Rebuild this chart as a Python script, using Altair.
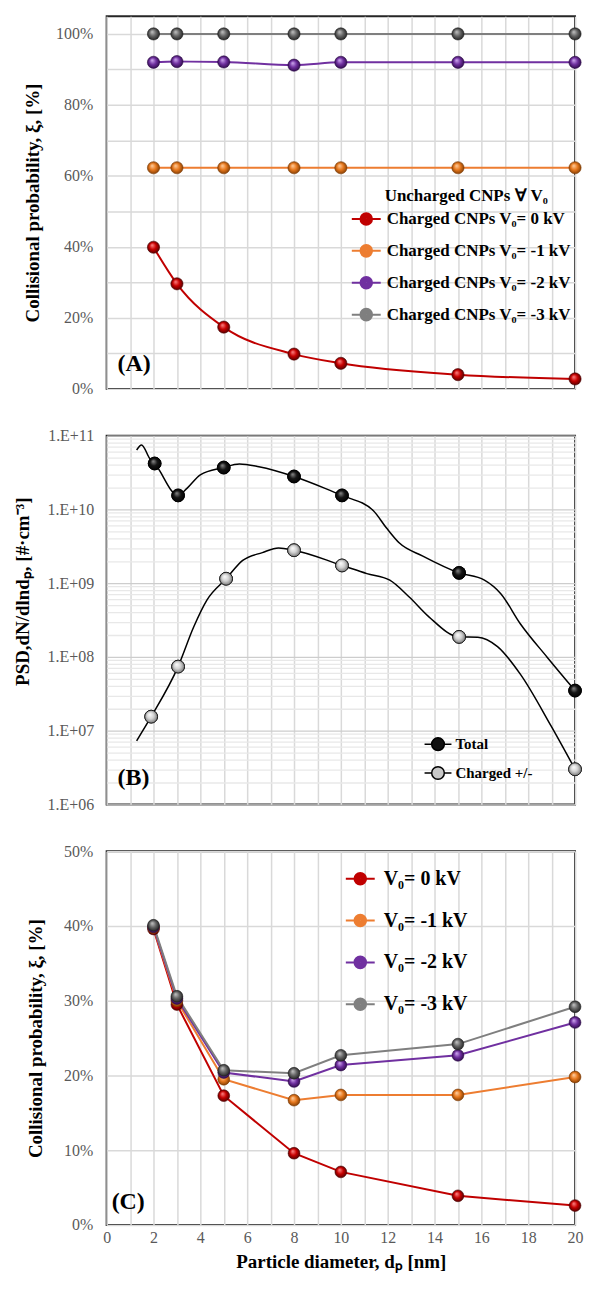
import altair as alt
import pandas as pd

FONT = "Liberation Serif"
LABEL_GRAY = "#595959"
GRID = "#D9D9D9"

# ---------------- data ----------------
diam = [2, 3, 5, 8, 10, 15, 20]
x_ticks = [0, 1, 2, 3, 4, 5, 6, 7, 8, 9, 10, 11, 12, 13, 14, 15, 16, 17, 18, 19, 20]

# Panel A
a_names = ["Charged CNPs V₀= 0 kV", "Charged CNPs V₀= -1 kV",
           "Charged CNPs V₀= -2 kV", "Charged CNPs V₀= -3 kV"]
a_v0 = [0.399, 0.296, 0.174, 0.098, 0.072, 0.040, 0.028]
a_v1 = [0.623, 0.623, 0.623, 0.623, 0.623, 0.623, 0.623]
a_v2 = [0.920, 0.922, 0.921, 0.912, 0.920, 0.920, 0.920]
a_v3 = [1.000, 1.000, 1.000, 1.000, 1.000, 1.000, 1.000]
a_yticks = [0.0, 0.1, 0.2, 0.3, 0.4, 0.5, 0.6, 0.7, 0.8, 0.9, 1.0]

# Panel B
b_names = ["Total", "Charged +/-"]
b_total_cx = [1.28, 1.49, 1.84, 2.05, 3.05, 3.44, 4.0, 4.97, 5.67, 6.5, 8.0, 9.3, 10.05,
              11.39, 11.95, 12.5, 13.48, 15.05, 16.13, 16.83, 17.67, 18.8, 20.0]
b_total_cy = [6.4e10, 7.5e10, 4.9e10, 4.2e10, 1.55e10, 1.95e10, 2.95e10, 3.7e10, 4.15e10,
              3.8e10, 2.8e10, 1.95e10, 1.55e10, 9.6e9, 5.6e9, 3.5e9, 2.35e9, 1.38e9,
              1.1e9, 7.2e8, 2.8e8, 1.0e8, 3.5e7]
b_chg_cx = [1.28, 1.9, 3.05, 3.72, 4.28, 5.1, 5.81, 6.65, 7.34, 8.0, 10.05, 11.11, 12.09,
            12.92, 13.76, 15.05, 15.85, 16.69, 17.67, 18.97, 20.0]
b_chg_cy = [7.3e6, 1.55e7, 7.4e7, 2.57e8, 5.9e8, 1.15e9, 2.04e9, 2.6e9, 3.0e9, 2.8e9,
            1.74e9, 1.35e9, 1.1e9, 6.5e8, 3.5e8, 1.87e8, 1.85e8, 1.38e8, 5.8e7, 1.17e7, 3.0e6]
b_total_mx = [2.05, 3.05, 5.0, 8.0, 10.05, 15.05, 20.0]
b_total_my = [4.2e10, 1.55e10, 3.7e10, 2.8e10, 1.55e10, 1.38e9, 3.5e7]
b_chg_mx = [1.9, 3.05, 5.1, 8.0, 10.05, 15.05, 20.0]
b_chg_my = [1.55e7, 7.4e7, 1.15e9, 2.8e9, 1.74e9, 1.87e8, 3.0e6]
b_major = [1e6, 1e7, 1e8, 1e9, 1e10, 1e11]
b_major_labels = ["1.E+06", "1.E+07", "1.E+08", "1.E+09", "1.E+10", "1.E+11"]

# Panel C
c_names = ["V₀= 0 kV", "V₀= -1 kV", "V₀= -2 kV", "V₀= -3 kV"]
c_v0 = [0.396, 0.295, 0.173, 0.096, 0.071, 0.039, 0.026]
c_v1 = [0.398, 0.300, 0.195, 0.167, 0.174, 0.174, 0.198]
c_v2 = [0.399, 0.303, 0.204, 0.192, 0.214, 0.227, 0.271]
c_v3 = [0.401, 0.306, 0.207, 0.203, 0.227, 0.242, 0.292]
c_yticks = [0.0, 0.1, 0.2, 0.3, 0.4, 0.5]

# ---------------- styles ----------------
series_colors = ["#C00000", "#ED7D31", "#7030A0", "#7F7F7F"]
ball_stops = [("#FF8A8A", "#C80000", "#4A0000"),
              ("#FFD2A6", "#E8791E", "#7A3800"),
              ("#D2AEF2", "#7030A0", "#2A0845"),
              ("#C8C8C8", "#666666", "#1E1E1E")]
b_ball_stops = [("#8C8C8C", "#151515", "#000000"),
                ("#FFFFFF", "#D2D2D2", "#6E6E6E")]


def ball(stops):
    light, base, dark = stops
    return {"gradient": "radial", "x1": 0.38, "y1": 0.32, "r1": 0.0,
            "x2": 0.5, "y2": 0.5, "r2": 0.55,
            "stops": [{"offset": 0.0, "color": light},
                      {"offset": 0.5, "color": base},
                      {"offset": 1.0, "color": dark}]}


def circ(r):
    return f"M{r},0A{r},{r},0,1,1,-{r},0A{r},{r},0,1,1,{r},0"


PATH_LINEBALL = "M-1,0L-0.4,0M0.4,0L1,0" + circ(0.40) + circ(0.29) + circ(0.18) + circ(0.08)
PATH_B = "M-1,0L-0.47,0M0.47,0L1,0" + circ(0.47) + "Z"

W = 470
HA, HB, HC = 374, 370, 375


def long_df(names, vals, xs):
    rows = []
    for n, v in zip(names, vals):
        for x, y in zip(xs, v):
            rows.append({"d": x, "v": y, "series": n})
    return pd.DataFrame(rows)


def x_enc(axis):
    return alt.X("d:Q", scale=alt.Scale(domain=[0, 20], nice=False, zero=False), axis=axis)


x_axis_plain = alt.Axis(values=x_ticks, labels=False, ticks=False, domain=False, grid=True,
                        gridColor=GRID, gridWidth=1.5, title=None)


def y_axis_pct(ticks, title, extent, tpad, expr):
    return alt.Axis(values=ticks, format=".0%", labelExpr=expr,
                    domain=False, ticks=False, grid=True, gridColor=GRID, gridWidth=1.5,
                    labelFont=FONT, labelFontSize=16, labelColor=LABEL_GRAY, labelPadding=14,
                    minExtent=extent, maxExtent=extent,
                    title=title, titleFont=FONT, titleFontSize=19, titleFontWeight="bold",
                    titleColor="black", titlePadding=tpad)


def panel_label(text, x, y):
    return alt.Chart(pd.DataFrame({"t": [text]})).mark_text(
        font=FONT, fontSize=24, fontWeight="bold", align="left", baseline="middle", color="black"
    ).encode(text="t:N", x=alt.value(x), y=alt.value(y))


# ---------------- panel A ----------------
dfa = long_df(a_names, [a_v0, a_v1, a_v2, a_v3], diam)
ya = alt.Y("v:Q", scale=alt.Scale(domain=[0, 1.05], nice=False, zero=False),
           axis=y_axis_pct(a_yticks, "Collisional probability, ξ, [%]", 55, 9,
                           "round(datum.value*100) % 20 == 0 ? datum.label : ''"))

lines_a = alt.Chart(dfa).mark_line(strokeWidth=2, interpolate="monotone").encode(
    x=x_enc(x_axis_plain), y=ya,
    color=alt.Color("series:N", scale=alt.Scale(domain=a_names, range=series_colors),
                    legend=alt.Legend(title=None, orient="none", legendX=245, legendY=188,
                                      symbolType=PATH_LINEBALL, symbolSize=841,
                                      symbolStrokeWidth=2, labelFont=FONT, labelFontSize=17,
                                      labelFontWeight="bold", labelColor="black",
                                      labelOffset=5, rowPadding=6, padding=0, labelLimit=400)))
pts_a = [alt.Chart(dfa).transform_filter(alt.datum.series == n).mark_circle(
    size=150, opacity=1, fill=ball(s), stroke=s[2], strokeWidth=0.6).encode(x=x_enc(x_axis_plain), y=ya)
    for n, s in zip(a_names, ball_stops)]
uncharged = alt.Chart(pd.DataFrame({"t": ["Uncharged CNPs ∀ V₀"]})).mark_text(
    font=FONT, fontSize=17, fontWeight="bold", align="left", baseline="middle", color="black"
).encode(text="t:N", x=alt.value(279), y=alt.value(180))

panel_a = alt.layer(lines_a, *pts_a, uncharged, panel_label("(A)", 11, 349)).properties(width=W, height=HA)

# ---------------- panel B ----------------
dfb_line = pd.concat([
    pd.DataFrame({"d": b_total_cx, "v": b_total_cy, "series": b_names[0]}),
    pd.DataFrame({"d": b_chg_cx, "v": b_chg_cy, "series": b_names[1]}),
])
dfb_pts = pd.concat([
    pd.DataFrame({"d": b_total_mx, "v": b_total_my, "series": b_names[0]}),
    pd.DataFrame({"d": b_chg_mx, "v": b_chg_my, "series": b_names[1]}),
])
b_all_ticks = [m * 10 ** k for k in range(6, 11) for m in range(1, 10)] + [10 ** 11]
b_major_int = [int(v) for v in b_major]
b_test = f"indexof({b_major_int}, datum.value) >= 0"
yb = alt.Y("v:Q", scale=alt.Scale(type="log", domain=[1e6, 1e11], nice=False),
           axis=alt.Axis(values=b_all_ticks,
                         labelExpr=f"{b_test} ? {b_major_labels}[indexof({b_major_int}, datum.value)] : ''",
                         domain=False, ticks=False, grid=True,
                         gridColor={"condition": {"test": b_test, "value": "#CDCDCD"}, "value": "#E8E8E8"},
                         gridWidth=1.3,
                         labelFont=FONT, labelFontSize=16, labelColor=LABEL_GRAY, labelPadding=13,
                         minExtent=62, maxExtent=62,
                         title="PSD,dN/dlndₚ, [#·cm⁻³]", titleFont=FONT, titleFontSize=19,
                         titleFontWeight="bold", titleColor="black", titlePadding=12, titleY=156))

lines_b = alt.Chart(dfb_line).mark_line(color="black", strokeWidth=1.5, interpolate="monotone").encode(
    x=x_enc(x_axis_plain), y=yb, detail="series:N")
solid_b = alt.Chart(dfb_pts).mark_point(filled=True, shape="circle", size=165, opacity=1,
                                         stroke="black", strokeWidth=1).encode(
    x=x_enc(x_axis_plain), y=yb,
    fill=alt.Fill("series:N", scale=alt.Scale(domain=b_names, range=["#111111", "#C8C8C8"]),
                  legend=alt.Legend(title=None, orient="none", legendX=318, legendY=295,
                                    symbolType=PATH_B, symbolSize=729, symbolStrokeColor="black",
                                    symbolStrokeWidth=1.5, labelFont=FONT, labelFontSize=15,
                                    labelFontWeight="bold", labelColor="black", labelOffset=3,
                                    rowPadding=5, padding=0, labelLimit=300)))
pts_b = [alt.Chart(dfb_pts).transform_filter(alt.datum.series == n).mark_circle(
    size=165, opacity=1, fill=ball(s), stroke="#000000", strokeWidth=0.6).encode(x=x_enc(x_axis_plain), y=yb)
    for n, s in zip(b_names, b_ball_stops)]

panel_b = alt.layer(lines_b, solid_b, *pts_b, panel_label("(B)", 11, 343)).properties(width=W, height=HB)

# ---------------- panel C ----------------
dfc = long_df(c_names, [c_v0, c_v1, c_v2, c_v3], diam)
yc = alt.Y("v:Q", scale=alt.Scale(domain=[0, 0.5], nice=False, zero=False),
           axis=y_axis_pct(c_yticks, "Collisional probability, ξ, [%]", 52, 9, "datum.label"))
x_axis_c = alt.Axis(values=x_ticks, labelExpr="datum.value % 2 == 0 ? datum.label : ''",
                    ticks=False, domain=False, grid=True, gridColor=GRID, gridWidth=1.5,
                    labelFont=FONT, labelFontSize=16, labelColor=LABEL_GRAY, labelPadding=5,
                    labelFlush=False, labelOverlap=False,
                    title="Particle diameter, dₚ [nm]", titleFont=FONT, titleFontSize=19,
                    titleFontWeight="bold", titleColor="black", titlePadding=7)

lines_c = alt.Chart(dfc).mark_line(strokeWidth=2).encode(
    x=x_enc(x_axis_c), y=yc,
    color=alt.Color("series:N", scale=alt.Scale(domain=c_names, range=series_colors),
                    legend=alt.Legend(title=None, orient="none", legendX=239, legendY=12,
                                      symbolType=PATH_LINEBALL, symbolSize=841,
                                      symbolStrokeWidth=2, labelFont=FONT, labelFontSize=20,
                                      labelFontWeight="bold", labelColor="black",
                                      labelOffset=8, rowPadding=16, padding=0, labelLimit=300)))
pts_c = [alt.Chart(dfc).transform_filter(alt.datum.series == n).mark_circle(
    size=140, opacity=1, fill=ball(s), stroke=s[2], strokeWidth=0.6).encode(x=x_enc(x_axis_c), y=yc)
    for n, s in zip(c_names, ball_stops)]

panel_c = alt.layer(lines_c, *pts_c, panel_label("(C)", 5, 352)).properties(width=W, height=HC)

chart = alt.vconcat(panel_a, panel_b, panel_c, spacing=47, bounds="flush").resolve_scale(
    x="independent", y="independent", color="independent", fill="independent"
).properties(
    padding={"left": 5, "top": 5, "right": 0, "bottom": 0}
).configure_view(stroke="#262626", strokeWidth=2)

chart.save("out.html", embed_options={"renderer": "svg", "actions": False})
